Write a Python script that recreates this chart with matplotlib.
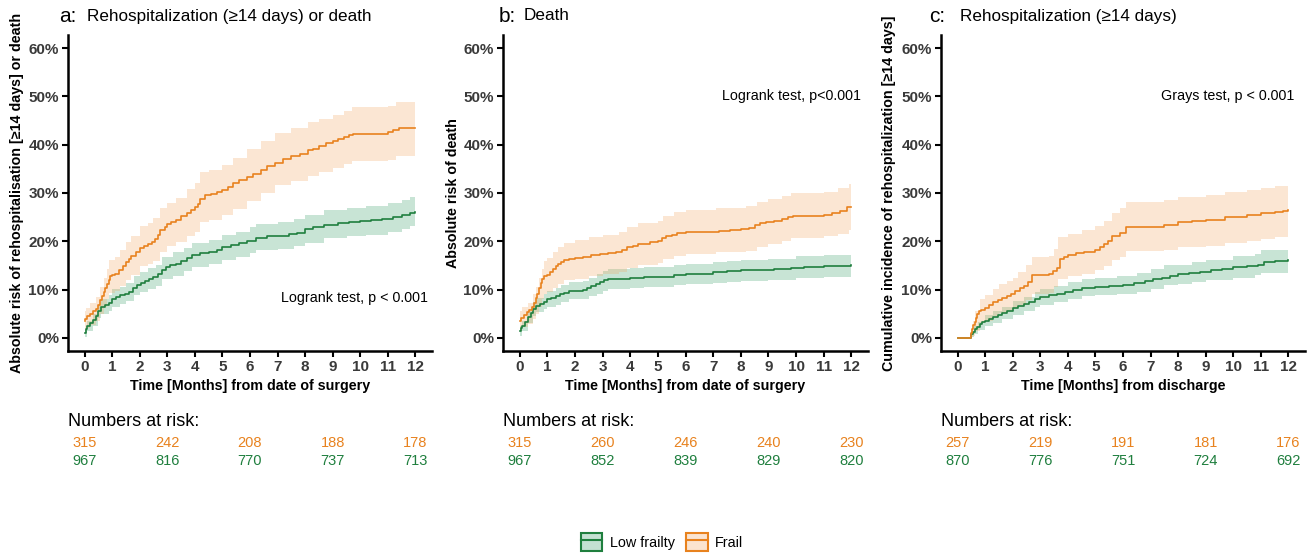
import matplotlib
matplotlib.use("Agg")
import matplotlib.pyplot as plt
from matplotlib.patches import Patch
from matplotlib.lines import Line2D
from matplotlib.transforms import blended_transform_factory

plt.rcParams['font.family'] = ['Liberation Sans', 'DejaVu Sans']

# ---------------- data ----------------
# Panel a: Rehospitalization (>=14 days) or death -- estimates
a_frail_t = [0, 0.03, 0.1, 0.2, 0.3, 0.4, 0.5, 0.57, 0.63, 0.7, 0.75, 0.8, 0.87, 0.93, 1.0, 1.1, 1.25, 1.4,
             1.5, 1.6, 1.7, 1.85, 2.0, 2.15, 2.3, 2.45, 2.55, 2.65, 2.75, 2.9, 3.0, 3.15, 3.3, 3.5, 3.7,
             3.85, 4.0, 4.1, 4.2, 4.35, 4.6, 4.8, 5.0, 5.2, 5.4, 5.6, 5.9, 6.1, 6.4, 6.6, 6.9, 7.2, 7.5,
             7.8, 8.1, 8.3, 8.5, 8.75, 9.0, 9.2, 9.4, 9.6, 9.75, 11.0, 11.2, 11.4, 12.0]
a_frail_est = [3.5, 4.0, 4.5, 5.0, 5.5, 6.0, 6.8, 7.8, 8.6, 9.5, 10.3, 11.2, 12.0, 12.8, 13.0, 13.3, 14.0,
               14.8, 15.8, 16.3, 17.0, 17.8, 18.6, 19.0, 19.5, 19.8, 20.5, 21.3, 22.3, 22.9, 23.5, 23.9,
               24.4, 25.2, 25.9, 26.4, 27.0, 27.8, 28.8, 29.5, 29.8, 30.2, 30.7, 31.3, 32.0, 32.6, 33.4,
               34.0, 34.8, 35.5, 36.3, 37.0, 37.6, 38.0, 38.8, 39.2, 39.7, 40.3, 40.8, 41.2, 41.6, 42.1,
               42.3, 42.6, 43.1, 43.5, 43.5]
a_low_t = [0, 0.05, 0.1, 0.2, 0.3, 0.4, 0.5, 0.6, 0.75, 0.9, 1.0, 1.15, 1.3, 1.45, 1.6, 1.75, 1.9, 2.05,
           2.2, 2.35, 2.5, 2.65, 2.8, 2.95, 3.1, 3.3, 3.5, 3.7, 3.9, 4.2, 4.5, 4.8, 5.0, 5.3, 5.6, 5.9,
           6.2, 6.6, 7.0, 7.4, 7.7, 8.0, 8.3, 8.7, 9.2, 9.6, 10.0, 10.4, 10.8, 11.2, 11.5, 11.8, 12.0]
a_low_est = [1.0, 1.8, 2.5, 3.0, 3.7, 4.5, 5.5, 6.5, 6.8, 7.2, 8.0, 8.5, 8.8, 9.2, 9.6, 10.3, 10.9, 11.4,
             11.8, 12.2, 12.6, 13.2, 14.0, 14.6, 15.0, 15.4, 15.9, 16.5, 17.2, 17.5, 17.8, 18.3, 18.8,
             19.2, 19.6, 20.1, 20.6, 21.0, 21.2, 21.5, 21.8, 22.6, 22.9, 23.4, 23.7, 23.9, 24.2, 24.4,
             24.7, 25.0, 25.4, 25.9, 26.1]
# Panel a -- 95% confidence bands
a_frail_ci_t = [0.00, 0.05, 0.20, 0.40, 0.57, 0.70, 0.80, 0.90, 1.10, 1.30, 1.50, 1.70, 2.00, 2.30, 2.50,
                2.75, 3.00, 3.30, 3.70, 4.00, 4.20, 4.50, 5.00, 5.40, 5.90, 6.40, 6.90, 7.50, 8.10, 8.50,
                9.00, 9.40, 9.70, 11.00, 11.30, 12.00]
a_frail_lo = [1.5, 2.0, 2.7, 3.5, 5.0, 6.5, 8.0, 9.3, 9.7, 10.8, 12.0, 13.0, 14.8, 15.3, 16.0, 17.8,
              19.0, 19.8, 21.2, 22.0, 23.9, 24.5, 25.4, 26.7, 28.4, 30.0, 31.6, 32.5, 33.6, 34.4, 35.2, 35.9,
              36.7, 36.9, 37.6, 37.8]
a_frail_hi = [5.5, 6.3, 7.3, 8.5, 10.5, 12.5, 14.3, 16.2, 16.8, 18.2, 19.8, 21.0, 23.2, 23.8, 24.8, 26.8,
              28.0, 29.0, 30.8, 32.0, 34.3, 34.8, 35.8, 37.2, 39.2, 40.8, 42.5, 43.4, 44.6, 45.4, 46.2, 47.0,
              47.8, 48.0, 48.8, 49.0]
a_low_ci_t = [0.00, 0.10, 0.30, 0.50, 0.60, 0.90, 1.00, 1.30, 1.50, 1.80, 2.00, 2.30, 2.60, 2.80, 3.20, 3.60,
              3.90, 4.50, 5.00, 5.50, 6.00, 6.20, 7.00, 7.60, 8.00, 8.70, 9.50, 10.20, 11.00, 11.50, 11.80,
              12.00]
a_low_lo = [0.3, 1.5, 2.5, 4.1, 5.0, 5.6, 6.5, 7.0, 7.6, 8.8, 9.5, 10.2, 10.8, 12.2, 12.9, 13.9,
            14.7, 15.3, 16.2, 16.8, 17.5, 18.2, 18.4, 19.0, 19.7, 20.6, 21.0, 21.4, 22.0, 22.6, 23.1, 23.1]
a_low_hi = [1.7, 3.5, 4.9, 6.9, 8.0, 8.8, 10.1, 10.6, 11.4, 12.8, 13.7, 14.4, 15.2, 16.8, 17.7, 18.7,
            19.7, 20.3, 21.4, 22.0, 22.9, 23.6, 24.0, 24.6, 25.5, 26.4, 26.8, 27.4, 28.0, 28.6, 29.1, 29.1]

# Panel b: Death -- estimates
b_frail_t = [0, 0.05, 0.15, 0.25, 0.35, 0.45, 0.52, 0.58, 0.64, 0.7, 0.76, 0.82, 0.9, 1.0, 1.1, 1.2, 1.3,
             1.4, 1.5, 1.6, 1.8, 2.0, 2.3, 2.6, 2.9, 3.2, 3.5, 3.7, 3.9, 4.1, 4.3, 4.7, 5.0, 5.15, 5.3,
             5.5, 5.7, 6.0, 7.0, 7.2, 7.6, 8.0, 8.3, 8.5, 8.7, 8.9, 9.2, 9.5, 9.7, 9.9, 11.0, 11.3, 11.6,
             11.85, 12.0]
b_frail_est = [3.5, 4.2, 4.8, 5.3, 5.8, 6.5, 7.3, 8.2, 9.2, 10.3, 11.3, 12.2, 12.8, 13.1, 13.6, 14.2,
               14.8, 15.3, 15.8, 16.1, 16.3, 16.5, 16.8, 17.1, 17.4, 17.5, 17.8, 18.3, 18.8, 19.1, 19.5,
               19.8, 20.0, 20.6, 21.0, 21.4, 21.8, 22.0, 22.0, 22.2, 22.3, 22.5, 22.8, 23.3, 23.7, 24.0,
               24.3, 24.6, 25.0, 25.3, 25.4, 25.8, 26.2, 27.0, 27.0]
b_low_t = [0, 0.05, 0.1, 0.2, 0.3, 0.4, 0.5, 0.6, 0.75, 0.9, 1.0, 1.15, 1.3, 1.45, 1.6, 1.8, 2.0, 2.3,
           2.45, 2.6, 2.75, 2.9, 3.05, 3.2, 3.5, 4.0, 4.5, 5.0, 5.6, 6.0, 6.6, 7.0, 7.5, 8.0, 8.6, 9.2,
           9.8, 10.3, 11.0, 11.6, 12.0]
b_low_est = [1.5, 2.0, 2.5, 3.3, 4.3, 5.2, 6.0, 6.6, 7.0, 7.5, 8.0, 8.3, 8.6, 9.0, 9.3, 9.7, 9.8, 9.9,
             10.3, 10.7, 11.1, 11.6, 12.0, 12.3, 12.3, 12.4, 12.6, 12.7, 13.0, 13.2, 13.3, 13.6, 13.8,
             14.0, 14.1, 14.3, 14.5, 14.7, 14.8, 14.9, 15.0]
# Panel b -- 95% confidence bands
b_frail_ci_t = [0.00, 0.10, 0.30, 0.50, 0.60, 0.70, 0.80, 0.90, 1.00, 1.20, 1.40, 1.60, 2.00, 2.50, 3.00,
                3.60, 3.90, 4.30, 5.00, 5.20, 5.60, 6.00, 7.00, 7.10, 8.20, 8.60, 9.00, 9.50, 9.80, 11.00,
                11.50, 11.90, 12.00]
b_frail_lo = [1.5, 2.2, 2.8, 4.0, 5.0, 6.5, 8.0, 9.0, 9.5, 10.3, 11.2, 12.0, 12.3, 12.8, 13.2, 13.6,
              14.5, 15.1, 15.5, 16.3, 17.0, 17.3, 17.3, 17.7, 18.0, 18.9, 19.5, 20.1, 20.7, 21.0, 21.6,
              22.3, 22.3]
b_frail_hi = [5.5, 6.5, 7.3, 9.0, 10.6, 12.5, 14.3, 16.0, 16.6, 17.7, 18.8, 19.7, 20.2, 20.8, 21.3, 21.9,
              23.0, 23.8, 24.2, 25.2, 26.1, 26.5, 26.5, 26.9, 27.3, 28.1, 28.7, 29.4, 30.0, 30.3, 31.0,
              31.8, 31.8]
b_low_ci_t = [0.00, 0.10, 0.30, 0.50, 0.60, 0.90, 1.00, 1.30, 1.50, 1.80, 2.30, 2.50, 2.80, 3.00, 3.20, 4.00,
              4.50, 5.60, 6.00, 7.00, 7.50, 8.00, 9.00, 10.00, 11.00, 12.00]
b_low_lo = [0.5, 1.5, 3.0, 4.5, 5.3, 5.9, 6.5, 6.9, 7.4, 8.0, 8.1, 8.6, 9.2, 9.8, 10.2, 10.3,
            10.5, 10.9, 11.1, 11.4, 11.6, 11.8, 12.0, 12.4, 12.6, 12.8]
b_low_hi = [2.5, 3.5, 5.6, 7.5, 8.3, 9.1, 9.8, 10.3, 11.0, 11.6, 11.7, 12.4, 13.2, 13.8, 14.3, 14.5,
            14.7, 15.1, 15.3, 15.8, 16.0, 16.2, 16.4, 16.9, 17.1, 17.2]

# Panel c: Rehospitalization (>=14 days), cumulative incidence -- estimates
c_frail_t = [0, 0.47, 0.52, 0.57, 0.62, 0.67, 0.72, 0.78, 0.85, 1.0, 1.15, 1.3, 1.45, 1.6, 1.8, 1.95, 2.1,
             2.25, 2.4, 2.55, 2.7, 3.3, 3.45, 3.6, 3.7, 3.85, 4.0, 4.3, 4.6, 5.0, 5.15, 5.3, 5.45, 5.6,
             5.9, 6.1, 7.5, 8.0, 8.5, 9.0, 9.7, 10.5, 11.0, 11.5, 11.8, 12.0]
c_frail_est = [0, 1.0, 1.8, 2.6, 3.4, 4.2, 5.0, 5.5, 5.8, 6.1, 6.8, 7.4, 7.9, 8.2, 8.6, 9.1, 9.8, 10.3,
               10.8, 11.5, 13.0, 13.2, 13.8, 14.5, 16.3, 16.8, 17.2, 17.5, 17.8, 18.3, 18.8, 19.4, 20.1,
               21.0, 21.8, 23.0, 23.4, 24.0, 24.2, 24.4, 25.0, 25.4, 25.8, 26.0, 26.3, 26.5]
c_low_t = [0, 0.47, 0.55, 0.62, 0.7, 0.8, 0.9, 1.0, 1.15, 1.3, 1.45, 1.6, 1.8, 2.0, 2.2, 2.4, 2.6, 2.8,
           3.0, 3.3, 3.6, 3.9, 4.2, 4.5, 5.0, 5.5, 6.0, 6.4, 6.8, 7.1, 7.4, 7.7, 8.0, 8.4, 8.8, 9.2, 9.6,
           10.0, 10.5, 10.9, 11.1, 11.5, 12.0]
c_low_est = [0, 0.8, 1.3, 1.8, 2.3, 2.8, 3.2, 3.6, 4.0, 4.3, 4.7, 5.1, 5.6, 6.2, 6.6, 7.0, 7.5, 8.0, 8.5,
             8.8, 9.1, 9.5, 9.9, 10.3, 10.6, 10.8, 11.0, 11.3, 11.7, 12.1, 12.4, 12.9, 13.2, 13.4, 13.7,
             14.0, 14.3, 14.6, 14.8, 15.2, 15.8, 16.0, 16.2]
# Panel c -- 95% confidence bands
c_frail_ci_t = [0.00, 0.50, 0.55, 0.65, 0.80, 1.00, 1.30, 1.50, 1.80, 2.00, 2.20, 2.50, 2.70, 3.30, 3.50,
                3.65, 4.00, 4.50, 5.00, 5.30, 5.60, 5.90, 6.10, 7.50, 8.00, 9.00, 9.70, 10.50, 11.00, 11.50,
                12.00]
c_frail_lo = [0.0, 0.2, 0.5, 1.5, 3.0, 3.5, 4.5, 5.2, 5.5, 6.1, 6.9, 7.9, 9.2, 9.4, 10.5, 12.2,
              12.8, 13.3, 14.0, 14.9, 16.1, 16.8, 17.9, 18.3, 18.8, 19.1, 19.7, 20.1, 20.5, 20.9, 21.2]
c_frail_hi = [0.0, 1.8, 3.5, 5.5, 8.0, 8.8, 10.2, 11.2, 11.7, 12.5, 13.7, 15.1, 16.8, 17.0, 18.5, 20.8,
              21.6, 22.3, 23.2, 24.3, 25.9, 26.8, 28.1, 28.5, 29.1, 29.5, 30.3, 30.7, 31.1, 31.5, 31.8]
c_low_ci_t = [0.00, 0.50, 0.60, 0.75, 1.00, 1.30, 1.60, 2.00, 2.40, 2.80, 3.00, 3.50, 4.00, 4.50, 5.00, 5.80,
              6.50, 7.00, 7.50, 8.00, 8.50, 9.00, 10.00, 10.80, 11.00, 12.00]
c_low_lo = [0.0, 0.3, 0.8, 1.6, 2.5, 3.1, 3.9, 4.8, 5.5, 6.4, 6.9, 7.4, 8.1, 8.6, 8.9, 9.2,
            9.6, 10.2, 11.0, 11.2, 11.6, 11.9, 12.5, 13.0, 13.5, 13.9]
c_low_hi = [0.0, 1.3, 2.4, 3.4, 4.7, 5.5, 6.5, 7.6, 8.5, 9.6, 10.1, 10.7, 11.5, 12.2, 12.5, 12.8,
            13.4, 14.2, 15.0, 15.2, 15.7, 16.1, 16.9, 17.4, 18.1, 18.8]

risk_times = [0, 3, 6, 9, 12]
a_risk_frail = [315, 242, 208, 188, 178]
a_risk_low = [967, 816, 770, 737, 713]
b_risk_frail = [315, 260, 246, 240, 230]
b_risk_low = [967, 852, 839, 829, 820]
c_risk_frail = [257, 219, 191, 181, 176]
c_risk_low = [870, 776, 751, 724, 692]

panel_letters = ["a:", "b:", "c:"]
panel_titles = ["Rehospitalization (≥14 days) or death", "Death", "Rehospitalization (≥14 days)"]
y_labels = ["Absolute risk of rehospitalisation [≥14 days] or death",
            "Absolute risk of death",
            "Cumulative incidence of rehospitalization [≥14 days]"]
x_labels = ["Time [Months] from date of surgery", "Time [Months] from date of surgery",
            "Time [Months] from discharge"]
test_texts = ["Logrank test, p < 0.001", "Logrank test, p<0.001", "Grays test, p < 0.001"]
group_labels = ["Low frailty", "Frail"]

# ---------------- style ----------------
W, H = 1314, 554
ORANGE = "#E8821E"
ORANGE_FILL = "#F2A764"
GREEN = "#1F7F3E"
GREEN_FILL = "#3C9E6A"
TICK_COL = "#3A3A3A"


def fx(px):
    return px / W


def fy(py):
    return 1 - py / H


fig = plt.figure(figsize=(W / 100, H / 100), dpi=100)

panels = [
    dict(left=68, right=432, letter_x=59, title_x=87, ylab_x=17, test_pos=(12.45, 8.2),
         frail=(a_frail_t, a_frail_est, a_frail_ci_t, a_frail_lo, a_frail_hi),
         low=(a_low_t, a_low_est, a_low_ci_t, a_low_lo, a_low_hi), risk=(a_risk_frail, a_risk_low)),
    dict(left=503, right=868, letter_x=499, title_x=524, ylab_x=453, test_pos=(12.35, 50.0),
         frail=(b_frail_t, b_frail_est, b_frail_ci_t, b_frail_lo, b_frail_hi),
         low=(b_low_t, b_low_est, b_low_ci_t, b_low_lo, b_low_hi), risk=(b_risk_frail, b_risk_low)),
    dict(left=941, right=1305, letter_x=929, title_x=960, ylab_x=889, test_pos=(12.2, 50.0),
         frail=(c_frail_t, c_frail_est, c_frail_ci_t, c_frail_lo, c_frail_hi),
         low=(c_low_t, c_low_est, c_low_ci_t, c_low_lo, c_low_hi), risk=(c_risk_frail, c_risk_low)),
]

top_px, bot_px = 35, 351
for i, p in enumerate(panels):
    ax = fig.add_axes([fx(p['left']), fy(bot_px), (p['right'] - p['left']) / W, (bot_px - top_px) / H])
    for key, fill_col in (("low", GREEN_FILL), ("frail", ORANGE_FILL)):
        t, est, ct, lo, hi = p[key]
        ax.fill_between(ct, lo, hi, step='post', color=fill_col, alpha=0.28, lw=0)
    for key, line_col in (("low", GREEN), ("frail", ORANGE)):
        t, est, ct, lo, hi = p[key]
        ax.step(t, est, where='post', color=line_col, lw=1.2)

    ax.set_xlim(-0.6, 12.6)
    ax.set_ylim(-2.7, 62.7)
    ax.set_xticks(range(0, 13))
    ax.set_yticks(range(0, 61, 10))
    ax.set_yticklabels([f"{v}%" for v in range(0, 61, 10)])
    for s in ("top", "right"):
        ax.spines[s].set_visible(False)
    for s in ("left", "bottom"):
        ax.spines[s].set_linewidth(1.8)
        ax.spines[s].set_color("black")
    ax.tick_params(axis='both', length=4.5, width=1.5, color="black", labelcolor=TICK_COL,
                   labelsize=11, pad=2)
    for lab in ax.get_xticklabels() + ax.get_yticklabels():
        lab.set_fontweight('bold')

    ax.text(p['test_pos'][0], p['test_pos'][1], test_texts[i], ha='right', va='center', fontsize=10.3,
            color="black")

    # titles
    fig.text(fx(p['letter_x']), fy(16), panel_letters[i], fontsize=15, ha='left', va='center')
    fig.text(fx(p['title_x']), fy(16), panel_titles[i], fontsize=12.3, ha='left', va='center')
    # axis labels
    fig.text(fx(p['ylab_x']), fy((top_px + bot_px) / 2), y_labels[i], rotation=90, fontsize=10.3,
             fontweight='bold', ha='center', va='center')
    fig.text(fx((p['left'] + p['right']) / 2), fy(386), x_labels[i], fontsize=10.3,
             fontweight='bold', ha='center', va='center')

    # numbers at risk
    fig.text(fx(p['left']), fy(421), "Numbers at risk:", fontsize=13, ha='left', va='center')
    tr = blended_transform_factory(ax.transData, fig.transFigure)
    rf, rl = p['risk']
    for tt, nf, nl in zip(risk_times, rf, rl):
        ax.text(tt, fy(443), str(nf), transform=tr, ha='center', va='center', fontsize=10.5,
                color=ORANGE, clip_on=False)
        ax.text(tt, fy(461), str(nl), transform=tr, ha='center', va='center', fontsize=10.5,
                color=GREEN, clip_on=False)

handles = [
    (Patch(facecolor=GREEN_FILL, alpha=0.3, edgecolor='none'),
     Patch(facecolor='none', edgecolor=GREEN, lw=1.5),
     Line2D([], [], color=GREEN, lw=1.5)),
    (Patch(facecolor=ORANGE_FILL, alpha=0.3, edgecolor='none'),
     Patch(facecolor='none', edgecolor=ORANGE, lw=1.5),
     Line2D([], [], color=ORANGE, lw=1.5)),
]
fig.legend(handles, group_labels, loc='center', bbox_to_anchor=(fx(662), fy(542)), ncol=2,
           frameon=False, fontsize=10.4, handlelength=1.5, handleheight=1.5, handletextpad=0.5,
           columnspacing=0.8)

fig.savefig("out.png", dpi=100)
